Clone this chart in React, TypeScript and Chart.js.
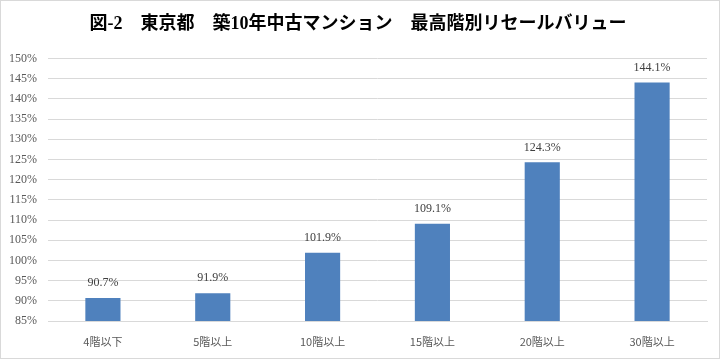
import React, { useEffect, useRef } from "react";
import { Chart, registerables } from "chart.js";

Chart.register(...registerables);

const titleText = "図-2　東京都　築10年中古マンション　最高階別リセールバリュー";
const categories = ["4階以下", "5階以上", "10階以上", "15階以上", "20階以上", "30階以上"];
const values = [90.7, 91.9, 101.9, 109.1, 124.3, 144.1];
const yMin = 85;
const yMax = 150;
const yStep = 5;

const valueLabelPlugin = {
  id: "valueLabels",
  afterDatasetsDraw(chart: any) {
    const ctx = chart.ctx;
    const meta = chart.getDatasetMeta(0);
    ctx.save();
    ctx.font = "12px 'Liberation Serif', serif";
    ctx.fillStyle = "#404040";
    ctx.textAlign = "center";
    ctx.textBaseline = "middle";
    meta.data.forEach((bar: any, i: number) => {
      ctx.fillText(values[i].toFixed(1) + "%", bar.x, bar.y - 15);
    });
    ctx.restore();
  },
};

export default function App() {
  const ref = useRef<HTMLCanvasElement | null>(null);
  useEffect(() => {
    document.body.style.margin = "0";
    const chart = new Chart(ref.current as HTMLCanvasElement, {
      type: "bar",
      data: {
        labels: categories,
        datasets: [
          {
            data: values,
            backgroundColor: "#4f81bd",
            barPercentage: 0.32,
            categoryPercentage: 1,
          },
        ],
      },
      options: {
        animation: false,
        responsive: true,
        maintainAspectRatio: false,
        layout: { padding: { left: 8, right: 12, top: 0, bottom: 9 } },
        plugins: {
          legend: { display: false },
          tooltip: { enabled: false },
          title: {
            display: true,
            text: titleText,
            color: "#000000",
            font: { size: 18, weight: "bold", family: "'Liberation Serif', 'Noto Sans CJK JP', serif" },
            padding: { top: 13, bottom: 23 },
          },
        },
        scales: {
          x: {
            grid: { display: false, drawTicks: false },
            border: { display: true, color: "#d9d9d9" },
            afterFit: (s: any) => {
              s.height = 28;
            },
            ticks: {
              color: "#595959",
              font: { size: 11, family: "'Noto Sans CJK JP', sans-serif" },
              padding: 14,
            },
          },
          y: {
            min: yMin,
            max: yMax,
            grid: { color: "#d9d9d9", drawTicks: false },
            border: { display: false },
            afterFit: (s: any) => {
              s.width = 39;
            },
            ticks: {
              stepSize: yStep,
              color: "#595959",
              padding: 11,
              font: { size: 12, family: "'Liberation Serif', serif" },
              callback: (v: any) => v + "%",
            },
          },
        },
      },
      plugins: [valueLabelPlugin],
    });
    return () => chart.destroy();
  }, []);
  return (
    <div
      style={{
        width: 720,
        height: 359,
        border: "1px solid #d9d9d9",
        boxSizing: "border-box",
        position: "relative",
        background: "#fff",
      }}
    >
      <canvas ref={ref} />
    </div>
  );
}
